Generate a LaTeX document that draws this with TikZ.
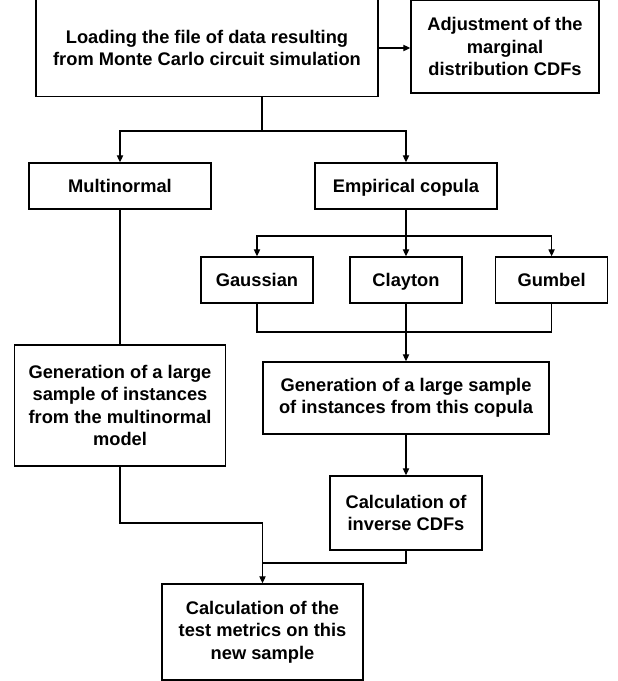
\documentclass[tikz,border=0pt]{standalone}
\usepackage{fontspec}
\setmainfont{Liberation Sans}
\usepackage{tikz}
\usetikzlibrary{arrows.meta}

\begin{document}
\begin{tikzpicture}[font=\bfseries\fontsize{13}{16}\selectfont,
  box/.style={draw,line width=1pt,align=center,inner sep=0pt},
  onerow/.style={box,text height=9.6pt,text depth=0pt},
  link/.style={line width=0.8pt},
  arr/.style={link,-{Triangle[length=5pt,width=4.5pt]}}]
  \useasboundingbox (0,0) rectangle (15.45,-17.025);
  % first row
  \node[box,minimum width=8.55cm,minimum height=2.425cm] (load) at (5.175,-1.2)
     {Loading the file of data resulting\\from Monte Carlo circuit simulation};
  \node[box,minimum width=4.7cm,minimum height=2.325cm] (adjust) at (12.625,-1.1625)
     {Adjustment of the\\marginal\\distribution CDFs};
  % models
  \node[onerow,minimum width=4.55cm,minimum height=1.15cm] (multi) at (3.0,-4.65) {Multinormal};
  \node[onerow,minimum width=4.55cm,minimum height=1.15cm] (empir) at (10.15,-4.65) {Empirical copula};
  \foreach \n/\x/\lab in {gauss/6.425/Gaussian,clay/10.15/Clayton,gumb/13.79/Gumbel}{
     \node[onerow,minimum width=2.8cm,minimum height=1.15cm] (\n) at (\x,-7.0) {\lab};}
  % sampling
  \node[box,minimum width=5.275cm,minimum height=3.025cm] (genmulti) at (3.0,-10.1375)
     {Generation of a large\\sample of instances\\from the multinormal\\model};
  \node[box,minimum width=7.15cm,minimum height=1.8cm] (gencop) at (10.15,-9.95)
     {Generation of a large sample\\of instances from this copula};
  \node[box,minimum width=3.8cm,minimum height=1.85cm] (inv) at (10.15,-12.825)
     {Calculation of\\inverse CDFs};
  \node[box,minimum width=5.025cm,minimum height=2.4cm] (metrics) at (6.5625,-15.8)
     {Calculation of the\\test metrics on this\\new sample};
  % branch points
  \coordinate (split1) at (6.55,-3.275);
  \coordinate (split2) at (10.15,-5.9);
  \coordinate (join1) at (10.15,-8.3);
  \coordinate (join2) at (6.5625,-13.075);
  \coordinate (join3) at (6.5625,-14.075);
  % connectors
  \draw[arr] (load.east) -- (load.east -| adjust.west);
  \draw[link] (load.south -| split1) -- (split1);
  \draw[arr] (split1) -| (multi);
  \draw[arr] (split1) -| (empir);
  \draw[link] (empir) -- (split2);
  \foreach \n in {gauss,clay,gumb}{\draw[arr] (split2) -| (\n);}
  \draw[link] (gauss) |- (join1) -| (gumb);
  \draw[arr] (clay) -- (gencop);
  \draw[link] (multi) -- (genmulti);
  \draw[arr] (gencop) -- (inv);
  \draw[arr] (genmulti) |- (join2) -- (metrics);
  \draw[link] (inv) |- (join3);
\end{tikzpicture}
\end{document}
